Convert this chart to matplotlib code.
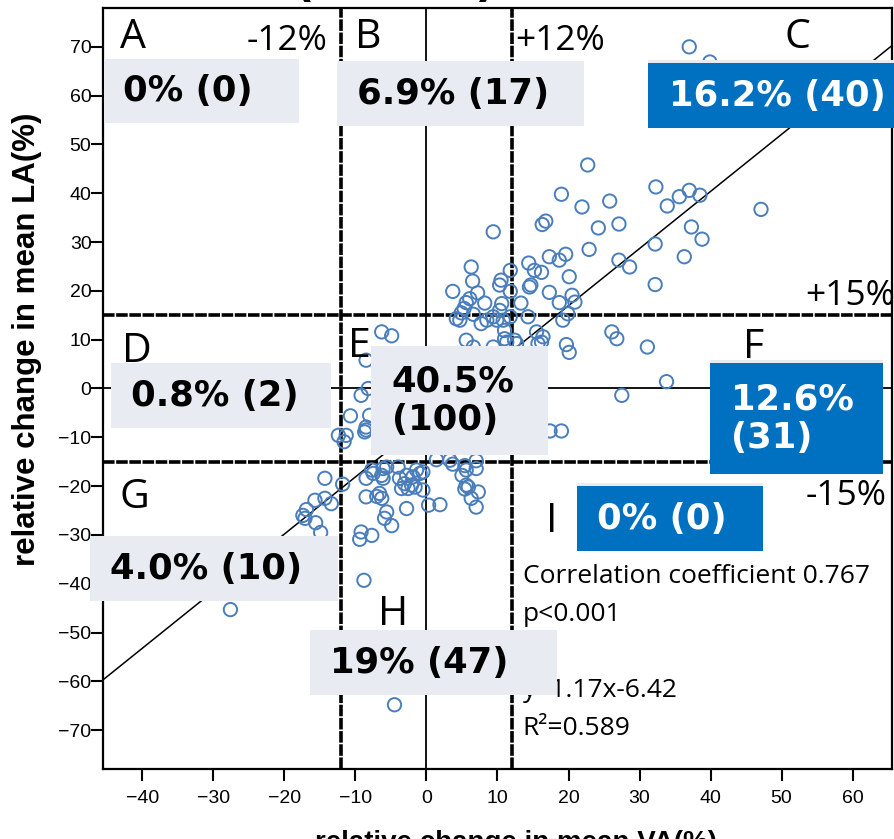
import matplotlib
matplotlib.use("Agg")
import matplotlib.pyplot as plt
from matplotlib.patches import Rectangle

# ---------------------------------------------------------------------------
# Relative change (%) in mean VA (x) and mean LA (y), grouped by region A-I
# ---------------------------------------------------------------------------
regions = ["A", "B", "C", "D", "E", "F", "G", "H", "I"]

va_A, la_A = [], []

va_B = [9.4, 6.3, 6.5, 10.5, 10.3, 3.7, 7.2, 6.1, 5.6, 8.2, 10.6, 5.3, 4.9,
        10.3, 11.8, 11.8, 6.6]
la_B = [32.1, 24.9, 22.0, 22.2, 21.2, 19.9, 19.6, 18.4, 17.6, 17.5, 17.4,
        16.4, 15.5, 16.0, 24.2, 19.9, 15.2]

va_C = [22.7, 32.3, 19.0, 37.0, 35.6, 38.5, 33.9, 25.8, 21.9, 16.8,
        16.3, 27.1, 24.2, 37.3, 38.8, 32.2, 22.9, 36.3, 17.3, 19.6,
        18.7, 27.1, 28.6, 14.4, 15.2, 16.2, 20.1, 14.5, 14.7, 32.2,
        17.3, 20.5, 13.3, 18.7, 20.9, 37.0, 39.9, 47.1, 19.9, 44.0]
la_C = [45.8, 41.3, 39.8, 40.6, 39.3, 39.6, 37.4, 38.4, 37.2, 34.3,
        33.6, 33.7, 32.9, 33.1, 30.6, 29.6, 28.5, 27.0, 27.0, 27.5,
        26.3, 26.3, 24.9, 25.7, 24.2, 23.8, 22.9, 20.8, 21.2, 21.3,
        19.7, 19.1, 17.5, 17.6, 17.7, 70.0, 66.9, 36.7, 15.3, 58.0]

va_D = [-12.4, -16.0]
la_D = [-9.6, -3.0]

va_E = [-11.3, -11.6, -9.2, -10.7, -8.5, -8.5, -8.7, -8.5, -6.3, -4.9,
        -8.2, -8.0, 4.2, 4.7, 7.7, 8.5, 9.4, 9.9, 10.8, 11.8,
        5.6, 6.6, 9.4, 11.0, 11.3, 11.0, 1.4, 3.3, 7.0,
        -6.5, -6.1, -6.4, -5.2, -4.9, -4.6, -4.1, -3.9, -3.6, -3.2,
        -2.9, -2.6, -2.4, -2.1, -1.8, -1.6, -1.3, -1.1, -0.8, -0.4,
        0.1, 0.2, -0.1, 0.6, 0.7, 1.1, 1.2, 1.6, 1.8, 2.1,
        2.3, 2.6, 2.8, 3.1, 3.2, 3.6, 3.8, 4.1, 4.3, 4.6,
        4.8, 5.1, 5.2, 5.6, 5.8, 6.1, 6.2, 6.6, 6.7, 7.1,
        7.3, 7.6, 7.8, 8.1, 8.3, 8.6, 8.8, 9.1, 9.2, 9.6,
        9.7, 10.1, 10.2, 10.6, 10.7, 11.1, 11.2, 11.5, 11.7, -5.8,
        -6.3]
la_E = [-9.6, -10.9, -1.4, -5.6, -7.9, -8.5, -8.9, 5.8, 11.6, 10.8,
        0.0, -5.5, 14.3, 14.0, 13.3, 14.0, 14.7, 14.0, 14.0, 14.7,
        9.9, 8.5, 8.5, 10.2, 9.5, 11.9, -14.6, -14.7, -14.8,
        -10.8, -9.7, -6.2, -11.1, -7.6, -4.3, -11.4, -7.2, -1.8, -9.9,
        -5.3, -11.2, -8.4, -2.7, 1.3, -10.6, -6.1, -9.3, -3.8, -0.7,
        -11.3, -7.4, -2.9, 2.2, -9.8, -4.6, -1.2, -11.1, -8.1, -3.4,
        3.3, -10.2, -5.7, -0.8, 4.9, -11.5, -7.7, -4.1, 1.2, 6.8,
        -10.7, -6.3, -2.2, 3.1, -8.8, -11.2, -3.6, 0.9, 6.2, -7.8,
        -2.4, 4.3, -10.9, -4.8, 0.3, 5.7, -9.2, -3.1, 2.4, -11.3,
        -5.9, 4.1, -1.3, -7.9, 6.9, -4.2, 1.4, -9.7, 5.2, -0.6,
        3.2]

va_F = [26.1, 26.8, 31.1, 33.8, 27.5, 19.7, 20.1, 19.0, 17.4, 15.5,
        16.4, 16.2, 15.7, 12.4, 12.7, 19.2, 14.3,
        12.6, 13.0, 13.2, 13.6, 13.8, 14.1, 14.3, 14.6, 14.9, 15.1,
        15.4, 15.6, 15.9, 16.0]
la_F = [11.6, 10.2, 8.5, 1.4, -1.4, 9.0, 7.4, -8.7, -8.7, 11.6,
        10.6, 9.5, 9.2, 9.9, 9.2, 14.0, 14.7,
        -10.2, -5.8, 2.3, 6.1, -2.4, -8.9, 4.2, -3.7, 0.8, -6.6,
        6.8, -0.9, 3.1, -10.6]

va_G = [-14.3, -15.7, -14.3, -13.4, -16.9, -17.4, -17.1, -15.6, -14.9, -27.6]
la_G = [-18.4, -22.9, -22.5, -23.6, -24.8, -26.0, -26.6, -27.5, -29.5, -45.3]

va_H = [-11.8, -8.5, -8.5, -9.2, -9.4, -7.7, -8.8, -4.5, -7.7, -6.1,
        -5.6, -6.3, -6.1, -7.5, -4.0, -3.8, -2.8, -1.9, -1.4, -0.9,
        -0.5, -3.1, -2.1, -1.6, -3.5, -0.5, -2.6, -7.0, -6.6, -6.3,
        -2.8, 0.3, 1.9, -5.6, -5.9, -4.9, 3.7, 5.4, 5.6, 7.0,
        5.0, 5.6, 5.4, 5.9, 6.3, 7.3, 7.0]
la_H = [-19.6, -18.4, -22.2, -29.4, -30.9, -30.1, -39.3, -64.8, -16.7, -16.4,
        -16.1, -17.8, -18.4, -17.4, -16.1, -18.4, -17.8, -18.1, -16.7, -17.4,
        -17.1, -19.5, -19.8, -20.2, -20.5, -20.8, -20.5, -22.1, -21.5, -22.5,
        -24.6, -23.9, -23.8, -25.3, -26.6, -28.1, -15.5, -15.8, -16.7, -16.4,
        -17.8, -19.8, -20.6, -20.2, -22.5, -21.2, -24.3]

va_I, la_I = [], []

va_by_region = [va_A, va_B, va_C, va_D, va_E, va_F, va_G, va_H, va_I]
la_by_region = [la_A, la_B, la_C, la_D, la_E, la_F, la_G, la_H, la_I]

# decimals shown in each region's percentage, and whether it wraps
pct_decimals = [0, 1, 1, 1, 1, 1, 1, 0, 0]
pct_wrapped = [False, False, False, False, True, True, False, False, False]

va_cuts = [-12, 12]
la_cuts = [-15, 15]
cut_labels = ["-12%", "+12%", "-15%", "+15%"]

reg_slope, reg_intercept = 1.17, -6.42
corr_r = 0.767
r_squared = 0.589
p_text = "p<0.001"

x_ticks = [-40, -30, -20, -10, 0, 10, 20, 30, 40, 50, 60]
y_ticks = [-70, -60, -50, -40, -30, -20, -10, 0, 10, 20, 30, 40, 50, 60, 70]

# ---------------------------------------------------------------------------
BLUE = "#4A7EBB"
BOX_GREY = "#E8ECF2"
BOX_BLUE = "#0070C0"
TXT_FONT = "Open Sans"

fig = plt.figure(figsize=(8.95, 8.39), dpi=100)
ax = fig.add_axes([0.1154, 0.0838, 0.8809, 0.9063])
ax.set_xlim(-45.5, 65.5)
ax.set_ylim(-77.9, 77.9)

for s in ax.spines.values():
    s.set_linewidth(1.6)
    s.set_color("black")

ax.set_xticks(x_ticks)
ax.set_yticks(y_ticks)
ax.tick_params(direction="out", length=8.5, width=1.5, color="black")
ax.tick_params(axis="x", pad=7)
ax.tick_params(axis="y", pad=0)
for lab in ax.get_xticklabels() + ax.get_yticklabels():
    lab.set_fontfamily("Liberation Sans")
    lab.set_fontsize(14)

# reference lines
ax.axvline(0, color="black", lw=1.3, zorder=1.5)
ax.axhline(0, color="black", lw=1.3, zorder=1.5)
for v in va_cuts:
    ax.axvline(v, color="black", lw=2.6, dashes=(3.2, 0.45), zorder=2)
for h in la_cuts:
    ax.axhline(h, color="black", lw=2.6, dashes=(3.2, 0.45), zorder=2)

# regression line
ax.axline((0, reg_intercept), slope=reg_slope, color="black", lw=1.1, zorder=2.6)

# points
all_va = [v for grp in va_by_region for v in grp]
all_la = [v for grp in la_by_region for v in grp]
ax.scatter(all_va, all_la, s=92, facecolors="none", edgecolors=BLUE,
           linewidths=1.4, zorder=3)

# region share boxes: (x0, x1, y0, y1), text x, colour
box_geom = {
    "A": (-45.45, -17.99, 54.37, 67.48, -42.77, BOX_GREY),
    "B": (-12.63, 22.15, 53.75, 67.07, -9.82, BOX_GREY),
    "C": (31.17, 65.95, 53.34, 66.66, 34.13, BOX_BLUE),
    "D": (-44.46, -13.48, -8.14, 5.18, -41.65, BOX_GREY),
    "E": (-7.85, 17.09, -13.66, 8.67, -4.89, BOX_GREY),
    "F": (39.90, 64.27, -17.56, 5.18, 42.86, BOX_BLUE),
    "G": (-47.3, -12.49, -43.58, -30.25, -44.61, BOX_GREY),
    "H": (-16.43, 18.35, -62.87, -49.55, -13.62, BOX_GREY),
    "I": (21.17, 47.37, -33.34, -20.02, 24.0, BOX_BLUE),
}

total = len(all_va)
for i, name in enumerate(regions):
    n = len(va_by_region[i])
    pct = 100.0 * n / total
    sep = "\n" if pct_wrapped[i] else " "
    label = f"{pct:.{pct_decimals[i]}f}%{sep}({n})"
    x0, x1, y0, y1, tx, col = box_geom[name]
    if col == BOX_BLUE:
        # thin pale rim along the top edge of the blue boxes
        ax.add_patch(Rectangle((x0, y0), x1 - x0, y1 - y0 + 0.6,
                               facecolor=BOX_GREY, edgecolor="none",
                               zorder=4.9, clip_on=False))
    ax.add_patch(Rectangle((x0, y0), x1 - x0, y1 - y0, facecolor=col,
                           edgecolor="none", zorder=5, clip_on=False))
    ax.text(tx, (y0 + y1) / 2, label, ha="left", va="center",
            family="DejaVu Sans", weight="bold", fontsize=25.5,
            color="white" if col == BOX_BLUE else "black",
            linespacing=1.15, zorder=6)

# region letters
letter_pos = {
    "A": (-43.18, 69.73), "B": (-10.1, 69.73), "C": (50.46, 69.73),
    "D": (-42.9, 5.39), "E": (-11.08, 6.41), "F": (44.55, 6.21),
    "G": (-43.18, -24.53), "H": (-6.86, -48.5), "I": (16.8, -29.45),
}
for name in regions:
    x, y = letter_pos[name]
    ax.text(x, y, name, ha="left", va="baseline", family=TXT_FONT,
            fontsize=29.5, color="black", zorder=4)

# threshold labels
ax.text(-13.9, 69.3, cut_labels[0], ha="right", va="baseline",
        family=TXT_FONT, fontsize=25.5, zorder=4)
ax.text(12.44, 69.3, cut_labels[1], ha="left", va="baseline",
        family=TXT_FONT, fontsize=25.5, zorder=4)
ax.text(64.85, -23.91, cut_labels[2], ha="right", va="baseline",
        family=TXT_FONT, fontsize=25.5, zorder=4)
ax.text(65.95, 17.07, cut_labels[3], ha="right", va="baseline",
        family=TXT_FONT, fontsize=25.5, zorder=4)

# statistics
eq_text = f"y={reg_slope:.2f}x-{-reg_intercept:.2f}"
stats_lines = [
    (f"Correlation coefficient {corr_r:.3f}", -39.9),
    (p_text, -47.68),
    (eq_text, -63.25),
    (f"R\u00b2={r_squared:.3f}", -71.04),
]
for txt, y in stats_lines:
    ax.text(13.56, y, txt, ha="left", va="baseline", family=TXT_FONT,
            fontsize=19, zorder=4)

# axis titles
fig.text(27 / 895, 1 - 339 / 839, "relative change in mean LA(%)",
         rotation=90, ha="center", va="center", family="Liberation Sans",
         weight="bold", fontsize=22.5)
fig.text(516 / 895, 1 - 830 / 839, "relative change in mean VA(%)",
         ha="center", va="top", family="Liberation Sans", weight="bold",
         fontsize=20)
fig.text(395 / 895, 1 + 4 / 839, f"(n={total})", ha="center", va="baseline",
         family="DejaVu Sans", weight="bold", fontsize=32)

fig.savefig("out.png", dpi=100)
